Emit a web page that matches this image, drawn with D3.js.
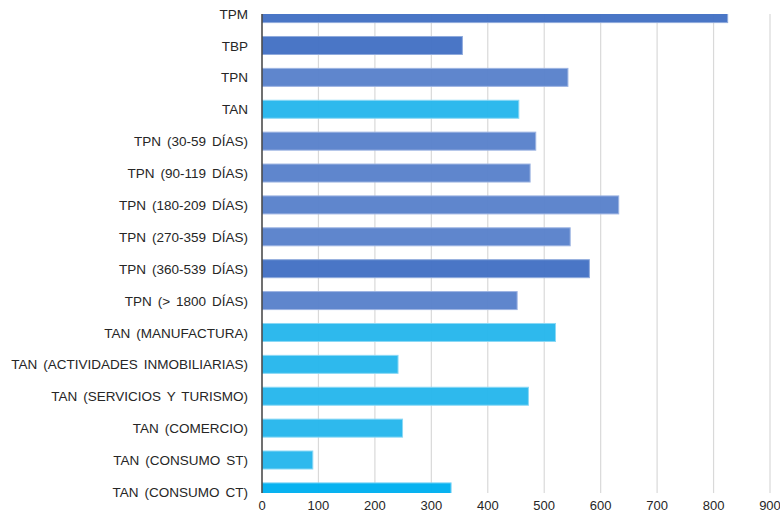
<!DOCTYPE html>
<html>
<head>
<meta charset="utf-8">
<script src="https://cdn.jsdelivr.net/npm/d3@7"></script>
<style>
  html, body { margin: 0; padding: 0; background: #ffffff; }
  svg { display: block; font-family: "Liberation Sans", Arial, sans-serif; }
</style>
</head>
<body>
<svg id="chart" width="780" height="515"></svg>
<script>
// Rate categories, top to bottom
const categories = [
  "TPM", "TBP", "TPN", "TAN",
  "TPN (30-59 DÍAS)", "TPN (90-119 DÍAS)", "TPN (180-209 DÍAS)",
  "TPN (270-359 DÍAS)", "TPN (360-539 DÍAS)", "TPN (> 1800 DÍAS)",
  "TAN (MANUFACTURA)", "TAN (ACTIVIDADES INMOBILIARIAS)",
  "TAN (SERVICIOS Y TURISMO)", "TAN (COMERCIO)",
  "TAN (CONSUMO ST)", "TAN (CONSUMO CT)"
];
const values = [825, 355, 542, 455, 485, 475, 632, 546, 580, 452, 520, 241, 472, 249, 90, 335];
// colour group per bar
const groups = ["dark", "dark", "mid", "cyan", "mid", "mid", "mid", "mid", "dark", "mid",
                "cyan", "cyan", "cyan", "cyan", "cyan", "bright"];
const xTicks = [0, 100, 200, 300, 400, 500, 600, 700, 800, 900];

const fills = { dark: "#4472C4", mid: "#5A82CB", cyan: "#27B7EC", bright: "#00B0F0" };
const strokes = { dark: "#8FAADC", mid: "#9DB4E2", cyan: "#8AD8F5", bright: "#7FD5F7" };

const svg = d3.select("#chart");
const plotTop = 14, plotBottom = 493, plotLeft = 262, plotRight = 780;

const x = d3.scaleLinear().domain([0, 900]).range([plotLeft, 770]);
const y = d3.scalePoint().domain(categories).range([13.6, 491.9]);
const barH = 18;

svg.append("defs").append("clipPath").attr("id", "plotClip")
  .append("rect")
  .attr("x", plotLeft).attr("y", plotTop)
  .attr("width", plotRight - plotLeft).attr("height", plotBottom - plotTop);

// vertical gridlines
svg.append("g")
  .selectAll("line")
  .data(xTicks.slice(1))
  .join("line")
  .attr("x1", d => x(d)).attr("x2", d => x(d))
  .attr("y1", plotTop).attr("y2", plotBottom)
  .attr("stroke", "#d9d9d9")
  .attr("stroke-width", 1.2);

// bars
const data = categories.map((c, i) => ({ c, v: values[i], g: groups[i] }));
svg.append("g")
  .attr("clip-path", "url(#plotClip)")
  .selectAll("rect")
  .data(data)
  .join("rect")
  .attr("x", x(0))
  .attr("y", d => y(d.c) - barH / 2)
  .attr("width", d => x(d.v) - x(0))
  .attr("height", barH)
  .attr("fill", d => fills[d.g])
  .attr("fill-opacity", 0.97)
  .attr("stroke", d => strokes[d.g])
  .attr("stroke-width", 1);

// category axis line
svg.append("line")
  .attr("x1", plotLeft).attr("x2", plotLeft)
  .attr("y1", plotTop).attr("y2", plotBottom)
  .attr("stroke", "#404040")
  .attr("stroke-width", 1.5);

// category labels
svg.append("g")
  .selectAll("text")
  .data(categories)
  .join("text")
  .attr("x", 248)
  .attr("y", d => y(d) + 1.5)
  .attr("text-anchor", "end")
  .attr("dominant-baseline", "middle")
  .attr("font-size", 13.5)
  .attr("word-spacing", 2.2)
  .attr("fill", "#262626")
  .text(d => d);

// value axis tick labels
svg.append("g")
  .selectAll("text")
  .data(xTicks)
  .join("text")
  .attr("x", d => x(d))
  .attr("y", 507)
  .attr("text-anchor", "middle")
  .attr("dominant-baseline", "middle")
  .attr("font-size", 13)
  .attr("fill", "#262626")
  .text(d => d);
</script>
</body>
</html>
